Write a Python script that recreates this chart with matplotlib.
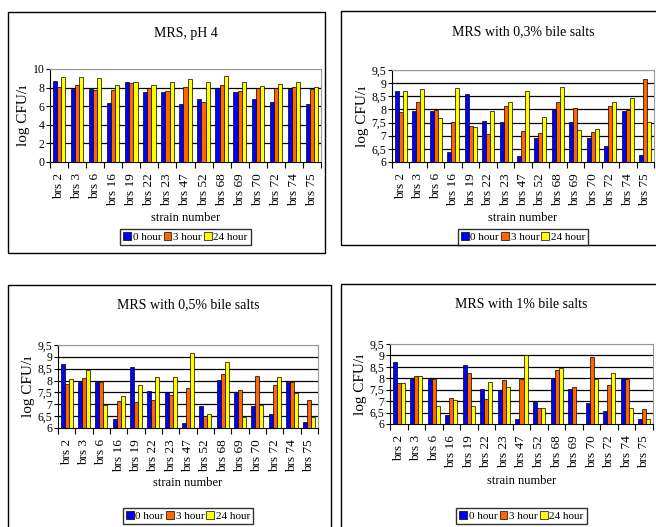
import numpy as np
import matplotlib
matplotlib.use("Agg")
import matplotlib.pyplot as plt
from matplotlib.patches import Rectangle

plt.rcParams['font.family'] = 'Liberation Serif'

# Strains and sampling times
strains = ['brs 2', 'brs 3', 'brs 6', 'brs 16', 'brs 19', 'brs 22', 'brs 23', 'brs 47',
           'brs 52', 'brs 68', 'brs 69', 'brs 70', 'brs 72', 'brs 74', 'brs 75']
hours = ['0 hour', '3 hour', '24 hour']
colors = ['#0000FF', '#FF6600', '#FFFF00']

# log CFU values per condition: rows are 0 h, 3 h, 24 h
ph4 = [
    [8.7, 7.9, 7.9, 6.3, 8.6, 7.5, 7.5, 6.2, 6.8, 8.0, 7.5, 6.8, 6.5, 7.9, 6.2],
    [8.1, 8.3, 7.7, 7.7, 8.5, 8.0, 7.6, 8.1, 6.5, 8.3, 7.6, 8.0, 8.0, 8.1, 7.9],
    [9.1, 9.1, 9.0, 8.3, 8.6, 8.3, 8.6, 8.9, 8.6, 9.2, 8.6, 8.2, 8.4, 8.6, 8.1],
]
bile03 = [
    [8.70, 7.93, 7.93, 6.38, 8.57, 7.57, 7.52, 6.22, 6.92, 8.00, 7.52, 6.92, 6.60, 7.93, 6.27],
    [7.90, 8.27, 7.97, 7.52, 7.37, 7.05, 8.12, 7.17, 7.10, 8.27, 8.07, 7.15, 8.12, 7.97, 9.17],
    [8.70, 8.77, 7.67, 8.83, 7.33, 7.93, 8.27, 8.72, 7.72, 8.87, 7.22, 7.25, 8.27, 8.42, 7.52],
]
bile05 = [
    [8.70, 7.95, 7.95, 6.37, 8.58, 7.55, 7.50, 6.20, 6.92, 8.03, 7.50, 6.92, 6.57, 7.95, 6.25],
    [7.85, 8.10, 7.95, 7.12, 7.08, 7.20, 7.40, 7.68, 6.50, 8.27, 7.62, 8.20, 7.80, 7.95, 7.20],
    [8.07, 8.45, 6.95, 7.33, 7.80, 8.15, 8.15, 9.15, 6.57, 8.80, 6.45, 6.95, 8.15, 7.47, 6.45],
]
bile1 = [
    [8.72, 7.97, 7.95, 6.38, 8.58, 7.55, 7.50, 6.20, 6.95, 8.03, 7.53, 6.90, 6.58, 7.95, 6.23],
    [7.80, 8.10, 7.97, 7.15, 8.23, 7.10, 7.93, 7.97, 6.72, 8.35, 7.62, 8.93, 7.72, 7.95, 6.67],
    [7.80, 8.10, 6.80, 7.07, 6.80, 7.85, 7.62, 9.03, 6.72, 8.45, 6.00, 7.95, 8.23, 6.72, 6.22],
]

W, H = 656, 527
fig = plt.figure(figsize=(W / 100, H / 100), dpi=100)


def px_axes(left, top, right, bottom):
    return fig.add_axes([left / W, 1 - bottom / H, (right - left) / W, (bottom - top) / H])


def frame(left, top, right, bottom):
    fig.patches.append(Rectangle((left / W, 1 - bottom / H), (right - left) / W, (bottom - top) / H,
                                 transform=fig.transFigure, fill=False, edgecolor='black',
                                 linewidth=1.0, zorder=0))


def panel(ax, data, title, ymin, ymax, step, title_y, xlabel_y, legend_y):
    x = np.arange(len(strains))
    w = 0.23
    for k, (vals, c, lab) in enumerate(zip(data, colors, hours)):
        v = np.array(vals)
        ax.bar(x + (k - 1) * w, v - ymin, w, bottom=ymin, color=c, edgecolor='black',
               linewidth=0.5, label=lab, zorder=3)
    ax.set_xlim(-0.5, len(strains) - 0.5)
    ax.set_ylim(ymin, ymax)
    yt = np.arange(ymin, ymax + step / 2, step)
    ax.set_yticks(yt)
    ax.set_yticklabels([('%g' % t).replace('.', ',') for t in yt], fontsize=8.5)
    for t in yt[1:-1]:
        ax.axhline(t, color='black', linewidth=0.9, zorder=1)
    ax.axhline(ymax, color='#999999', linewidth=0.9, zorder=1)
    ax.set_xticks(x)
    ax.set_xticklabels(strains, rotation=90, fontsize=9.5)
    ax.set_xticks(np.arange(-0.5, len(strains)), minor=True)
    ax.tick_params(axis='x', which='major', length=0, pad=8)
    ax.tick_params(axis='x', which='minor', length=4, direction='out', width=0.8)
    ax.tick_params(axis='y', length=3, direction='out', width=0.8, pad=1)
    for s in ['top', 'right']:
        ax.spines[s].set_color('#999999')
    for s in ['left', 'bottom']:
        ax.spines[s].set_color('black')
    ax.set_ylabel('log CFU/ı', fontsize=11, labelpad=2)
    bb = ax.get_position()
    cx = (bb.x0 + bb.x1) / 2
    fig.text(cx, 1 - title_y / H, title, ha='center', va='center', fontsize=10)
    fig.text(cx, 1 - xlabel_y / H, 'strain number', ha='center', va='center', fontsize=9)
    fig.legend(*ax.get_legend_handles_labels(), loc='center', ncol=3,
               bbox_to_anchor=(cx, 1 - legend_y / H), fontsize=8, frameon=True,
               fancybox=False, edgecolor='black', handlelength=0.7, handleheight=0.7,
               handletextpad=0.15, columnspacing=0.2, borderpad=0.3, borderaxespad=0)


frame(8, 12, 325, 253)
frame(341, 11, 660, 245)
frame(8, 285, 331, 532)
frame(341, 284, 660, 532)

ax1 = px_axes(50, 69, 321, 162)
panel(ax1, ph4, 'MRS, pH 4', 0, 10, 2, 33, 218, 237)

ax2 = px_axes(392, 70, 654, 162)
panel(ax2, bile03, 'MRS with 0,3% bile salts', 6, 9.5, 0.5, 32, 218, 237)

ax3 = px_axes(58, 345, 318, 428)
panel(ax3, bile05, 'MRS with 0,5% bile salts', 6, 9.5, 0.5, 305, 483, 516)

ax4 = px_axes(390, 344, 653, 424)
panel(ax4, bile1, 'MRS with 1% bile salts', 6, 9.5, 0.5, 305, 481, 516)

fig.savefig('out.png', dpi=100)
